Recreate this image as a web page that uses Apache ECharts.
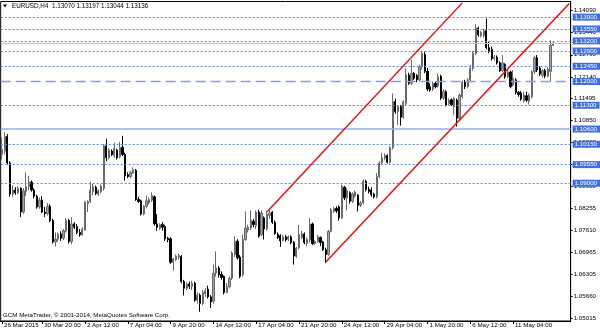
<!DOCTYPE html>
<html><head><meta charset="utf-8">
<script src="https://cdn.jsdelivr.net/npm/echarts@6/dist/echarts.min.js"></script>
<style>html,body{margin:0;padding:0;background:#fff}#c{width:600px;height:333px}</style>
</head><body><div id="c"></div>
<script>
// ---- data ----
const days = ['26 Mar','27 Mar','30 Mar','31 Mar','1 Apr','2 Apr','3 Apr','6 Apr','7 Apr','8 Apr','9 Apr','10 Apr',
  '13 Apr','14 Apr','15 Apr','16 Apr','17 Apr','20 Apr','21 Apr','22 Apr','23 Apr','24 Apr','27 Apr','28 Apr',
  '29 Apr','30 Apr','1 May','4 May','5 May','6 May','7 May','8 May','11 May','12 May','13 May','14 May'];
const hours = ['00:00','04:00','08:00','12:00','16:00','20:00'];
// [open, close, low, high]
const ohlc = [
[1.0985,1.1000,1.0970,1.1035],[1.0995,1.1038,1.0985,1.1050],[1.1038,1.0960,1.0955,1.1045],[1.0960,1.0868,1.0860,1.0965],
[1.0868,1.0880,1.0860,1.0893],[1.0880,1.0872,1.0866,1.0888],[1.0872,1.0885,1.0868,1.0892],[1.0885,1.0815,1.0800,1.0888],
[1.0815,1.0878,1.0810,1.0885],[1.0876,1.0890,1.0862,1.0932],[1.0890,1.0903,1.0880,1.0922],[1.0903,1.0880,1.0875,1.0908],
[1.0880,1.0862,1.0855,1.0885],[1.0862,1.0830,1.0825,1.0866],[1.0830,1.0850,1.0825,1.0858],[1.0850,1.0815,1.0812,1.0862],
[1.0815,1.0810,1.0800,1.0830],[1.0810,1.0832,1.0805,1.0842],[1.0832,1.0790,1.0785,1.0838],[1.0790,1.0727,1.0722,1.0795],
[1.0727,1.0735,1.0713,1.0755],[1.0735,1.0750,1.0728,1.0755],[1.0750,1.0738,1.0730,1.0758],[1.0738,1.0760,1.0732,1.0765],
[1.0760,1.0790,1.0755,1.0797],[1.0790,1.0728,1.0722,1.0795],[1.0728,1.0780,1.0720,1.0800],[1.0780,1.0770,1.0765,1.0785],
[1.0772,1.0755,1.0750,1.0780],[1.0755,1.0748,1.0742,1.0765],[1.0748,1.0765,1.0745,1.0770],[1.0762,1.0845,1.0760,1.0848],
[1.0840,1.0846,1.0815,1.0850],[1.0846,1.0880,1.0842,1.0905],[1.0875,1.0890,1.0865,1.0898],[1.0888,1.0870,1.0865,1.0893],
[1.0868,1.0878,1.0862,1.0882],[1.0875,1.0892,1.0870,1.0897],[1.0885,1.1010,1.0878,1.1015],[1.1010,1.0975,1.0965,1.1031],
[1.0975,1.0998,1.0970,1.1003],[1.0995,1.0985,1.0980,1.1000],[1.0982,1.1003,1.0975,1.1020],[1.0998,1.0975,1.0970,1.1002],
[1.0978,1.1006,1.0973,1.1022],[1.1006,1.0985,1.0980,1.1040],[1.0985,1.0922,1.0908,1.0990],[1.0925,1.0920,1.0915,1.0932],
[1.0920,1.0932,1.0915,1.0937],[1.0930,1.0940,1.0928,1.0947],[1.0938,1.0852,1.0848,1.0942],[1.0852,1.0846,1.0842,1.0860],
[1.0848,1.0809,1.0805,1.0852],[1.0809,1.0832,1.0805,1.0836],[1.0832,1.0848,1.0826,1.0864],[1.0842,1.0852,1.0838,1.0858],
[1.0850,1.0864,1.0845,1.0873],[1.0860,1.0780,1.0775,1.0864],[1.0780,1.0770,1.0760,1.0809],[1.0767,1.0778,1.0762,1.0782],
[1.0778,1.0770,1.0760,1.0785],[1.0772,1.0736,1.0730,1.0777],[1.0738,1.0733,1.0726,1.0742],[1.0736,1.0667,1.0662,1.0741],
[1.0667,1.0677,1.0642,1.0680],[1.0675,1.0685,1.0670,1.0690],[1.0682,1.0687,1.0675,1.0692],[1.0684,1.0610,1.0605,1.0688],
[1.0610,1.0590,1.0569,1.0615],[1.0590,1.0603,1.0585,1.0608],[1.0603,1.0596,1.0588,1.0610],[1.0596,1.0605,1.0585,1.0612],
[1.0605,1.0555,1.0550,1.0610],[1.0555,1.0570,1.0545,1.0578],[1.0570,1.0545,1.0521,1.0575],[1.0545,1.0578,1.0540,1.0585],
[1.0574,1.0583,1.0565,1.0590],[1.0588,1.0565,1.0560,1.0598],[1.0565,1.0550,1.0532,1.0570],[1.0552,1.0635,1.0545,1.0660],
[1.0635,1.0650,1.0625,1.0699],[1.0650,1.0630,1.0622,1.0656],[1.0632,1.0622,1.0615,1.0640],[1.0625,1.0578,1.0572,1.0628],
[1.0578,1.0595,1.0575,1.0605],[1.0595,1.0620,1.0590,1.0625],[1.0620,1.0694,1.0615,1.0699],[1.0690,1.0729,1.0682,1.0744],
[1.0729,1.0680,1.0675,1.0735],[1.0682,1.0626,1.0620,1.0688],[1.0630,1.0734,1.0625,1.0749],[1.0734,1.0768,1.0730,1.0817],
[1.0762,1.0770,1.0755,1.0778],[1.0768,1.0790,1.0762,1.0820],[1.0788,1.0778,1.0770,1.0795],[1.0775,1.0815,1.0765,1.0820],
[1.0815,1.0744,1.0740,1.0822],[1.0748,1.0812,1.0744,1.0820],[1.0798,1.0765,1.0734,1.0802],[1.0765,1.0808,1.0760,1.0818],
[1.0805,1.0812,1.0795,1.0820],[1.0815,1.0785,1.0780,1.0818],[1.0785,1.0752,1.0748,1.0790],[1.0750,1.0740,1.0735,1.0755],
[1.0745,1.0730,1.0712,1.0750],[1.0732,1.0742,1.0728,1.0748],[1.0742,1.0733,1.0728,1.0748],[1.0735,1.0742,1.0730,1.0746],
[1.0742,1.0724,1.0720,1.0746],[1.0726,1.0685,1.0660,1.0730],[1.0685,1.0709,1.0680,1.0712],[1.0709,1.0749,1.0705,1.0778],
[1.0740,1.0752,1.0735,1.0760],[1.0750,1.0725,1.0720,1.0755],[1.0722,1.0735,1.0714,1.0740],[1.0732,1.0780,1.0725,1.0798],
[1.0780,1.0722,1.0718,1.0784],[1.0722,1.0728,1.0718,1.0732],[1.0728,1.0742,1.0725,1.0748],[1.0740,1.0725,1.0715,1.0743],
[1.0727,1.0704,1.0700,1.0730],[1.0704,1.0690,1.0665,1.0710],[1.0690,1.0758,1.0686,1.0762],[1.0758,1.0822,1.0755,1.0827],
[1.0818,1.0825,1.0812,1.0830],[1.0826,1.0818,1.0812,1.0832],[1.0830,1.0798,1.0790,1.0835],[1.0798,1.0891,1.0795,1.0896],
[1.0888,1.0857,1.0850,1.0892],[1.0857,1.0878,1.0820,1.0885],[1.0872,1.0847,1.0840,1.0876],[1.0847,1.0868,1.0842,1.0873],
[1.0862,1.0874,1.0858,1.0878],[1.0865,1.0835,1.0817,1.0868],[1.0835,1.0842,1.0830,1.0848],[1.0842,1.0906,1.0838,1.0912],
[1.0906,1.0882,1.0876,1.0910],[1.0882,1.0876,1.0870,1.0890],[1.0880,1.0866,1.0860,1.0888],[1.0868,1.0860,1.0855,1.0872],
[1.0860,1.0920,1.0855,1.0930],[1.0920,1.0960,1.0915,1.0965],[1.0960,1.0975,1.0955,1.0990],[1.0975,1.0982,1.0968,1.0988],
[1.0982,1.0962,1.0958,1.0985],[1.0962,1.1005,1.0958,1.1010],[1.1005,1.1141,1.1000,1.1165],[1.1141,1.1111,1.1105,1.1150],
[1.1111,1.1126,1.1072,1.1130],[1.1126,1.1095,1.1070,1.1131],[1.1095,1.1140,1.1090,1.1145],[1.1135,1.1219,1.1130,1.1239],
[1.1219,1.1195,1.1190,1.1226],[1.1195,1.1224,1.1190,1.1264],[1.1224,1.1210,1.1205,1.1228],[1.1218,1.1205,1.1198,1.1222],
[1.1205,1.1244,1.1200,1.1250],[1.1244,1.1283,1.1235,1.1290],[1.1280,1.1230,1.1225,1.1288],[1.1230,1.1178,1.1172,1.1240],
[1.1185,1.1175,1.1170,1.1195],[1.1178,1.1195,1.1172,1.1200],[1.1195,1.1185,1.1180,1.1200],[1.1188,1.1215,1.1182,1.1224],
[1.1215,1.1151,1.1145,1.1220],[1.1151,1.1170,1.1146,1.1178],[1.1170,1.1131,1.1126,1.1175],[1.1135,1.1145,1.1130,1.1150],
[1.1146,1.1132,1.1128,1.1150],[1.1125,1.1150,1.1101,1.1155],[1.1145,1.1092,1.1067,1.1150],[1.1092,1.1160,1.1088,1.1165],
[1.1155,1.1198,1.1150,1.1203],[1.1198,1.1185,1.1178,1.1205],[1.1185,1.1205,1.1180,1.1210],[1.1205,1.1239,1.1200,1.1249],
[1.1239,1.1283,1.1232,1.1290],[1.1283,1.1358,1.1278,1.1369],[1.1358,1.1338,1.1332,1.1362],[1.1335,1.1345,1.1330,1.1350],
[1.1335,1.1350,1.1330,1.1355],[1.1350,1.1300,1.1295,1.1386],[1.1300,1.1290,1.1283,1.1318],[1.1295,1.1268,1.1262,1.1303],
[1.1268,1.1272,1.1262,1.1278],[1.1272,1.1255,1.1250,1.1277],[1.1255,1.1232,1.1228,1.1260],[1.1232,1.1255,1.1228,1.1278],
[1.1250,1.1214,1.1208,1.1254],[1.1214,1.1228,1.1210,1.1234],[1.1228,1.1185,1.1180,1.1232],[1.1190,1.1210,1.1185,1.1234],
[1.1205,1.1168,1.1162,1.1210],[1.1168,1.1162,1.1155,1.1172],[1.1166,1.1148,1.1143,1.1172],[1.1143,1.1160,1.1138,1.1170],
[1.1158,1.1145,1.1140,1.1170],[1.1142,1.1160,1.1132,1.1165],[1.1155,1.1229,1.1150,1.1233],[1.1229,1.1270,1.1222,1.1276],
[1.1270,1.1234,1.1228,1.1278],[1.1240,1.1222,1.1216,1.1245],[1.1218,1.1232,1.1212,1.1236],[1.1232,1.1216,1.1210,1.1238],
[1.1216,1.1236,1.1212,1.1242],[1.1230,1.1307,1.1200,1.1322],[1.13070,1.13136,1.13044,1.13197]
];
const shiftBars = 6; // empty space at the right (chart shift)
const yTicks = [1.05015,1.05660,1.06305,1.06965,1.07610,1.08255,1.08900,1.09550,1.10200,1.10850,1.11495,1.12140,1.12790,1.13440,1.14090];
const xTickCats = ['26 Mar 08:00','30 Mar 20:00','2 Apr 12:00','7 Apr 04:00','9 Apr 20:00','14 Apr 12:00','17 Apr 04:00',
  '21 Apr 20:00','24 Apr 12:00','29 Apr 04:00','1 May 20:00','6 May 12:00','11 May 04:00'];
const xTickLabels = ['26 Mar 2015','30 Mar 20:00','2 Apr 12:00','7 Apr 04:00','9 Apr 20:00','14 Apr 12:00','17 Apr 04:00',
  '21 Apr 20:00','24 Apr 12:00','29 Apr 04:00','1 May 20:00','6 May 12:00','11 May 04:00'];
const dottedLevels = [1.13900,1.13550,1.13200,1.12900,1.12450,1.11300,1.10150,1.09550,1.09000];
const dashedLevels = [1.12000];
const solidLevels = [1.10600];
const bidPrice = 1.13136;
const channelUpper = [[99, 1.0815], [172, 1.1432]];
const channelLower = [[121, 1.0668], [212, 1.1430]];
const symbolName = 'EURUSD,H4';

// ---- build ----
const cats = [];
days.forEach((d, di) => hours.forEach((h, hi) => {
  if (di === 0 && hi < 2) return;
  cats.push(d + ' ' + h);
}));
const categories = cats.slice(0, ohlc.length + shiftBars);

const FONT = 'Liberation Sans';
const boxLabel = v => ({
  show: true, position: 'end', distance: 2,
  formatter: v.toFixed(5), color: '#fff', backgroundColor: '#3f6fe0',
  fontSize: 6.2, fontFamily: FONT, padding: [1, 3, 0, 2]
});
const levelLines = [];
dottedLevels.forEach(v => levelLines.push({yAxis: v, lineStyle: {color: '#5f83e6', type: [2, 2], width: 1}, label: boxLabel(v)}));
dashedLevels.forEach(v => levelLines.push({yAxis: v, lineStyle: {color: '#7e9ef0', type: [10, 5], width: 1.3}, label: boxLabel(v)}));
solidLevels.forEach(v => levelLines.push({yAxis: v, lineStyle: {color: '#93aef2', type: 'solid', width: 1.5}, label: boxLabel(v)}));
levelLines.push({yAxis: bidPrice, lineStyle: {color: '#c4c4c4', type: 'solid', width: 1}, label: {show: false}});
const chan = (pts) => [
  {coord: [categories[pts[0][0]], pts[0][1]], lineStyle: {color: '#ff0000', width: 1.4, type: 'solid'}},
  {coord: [categories[pts[1][0]], pts[1][1]]}
];
levelLines.push(chan(channelUpper));
levelLines.push(chan(channelLower));

const last = ohlc[ohlc.length - 1];
const titleText = symbolName + '  ' + [last[0], last[3], last[2], last[1]].map(v => v.toFixed(5)).join(' ');

const chart = echarts.init(document.getElementById('c'), null, {renderer: 'canvas'});
chart.setOption({
  animation: false,
  backgroundColor: '#ffffff',
  grid: {left: 0.66, right: 29.35, top: 1.5, bottom: 12, show: true, borderColor: '#000', borderWidth: 1, backgroundColor: 'transparent'},
  xAxis: {
    type: 'category', data: categories, boundaryGap: true,
    axisLine: {show: true, lineStyle: {color: '#000', width: 1}},
    axisTick: {show: true, length: 3, alignWithLabel: true, interval: (i, v) => xTickCats.indexOf(v) >= 0, lineStyle: {color: '#000'}},
    axisLabel: {show: true, interval: (i, v) => xTickCats.indexOf(v) >= 0, formatter: v => xTickLabels[xTickCats.indexOf(v)] || '',
      align: 'left', margin: 1, padding: [0, 0, 0, 2], color: '#000', fontSize: 6.2, fontFamily: FONT},
    splitLine: {show: false}
  },
  yAxis: {
    type: 'value', position: 'right', min: 1.049366, max: 1.14361, scale: true,
    axisLine: {show: true, lineStyle: {color: '#000', width: 1}},
    axisTick: {show: true, length: 2, customValues: yTicks, lineStyle: {color: '#000'}},
    axisLabel: {show: true, customValues: yTicks, formatter: v => v.toFixed(5), margin: 3, color: '#000', fontSize: 6.2, fontFamily: FONT},
    splitLine: {show: false}
  },
  graphic: [
    {type: 'polygon', shape: {points: [[3, 4.5], [7, 4.5], [5, 7.5]]}, style: {fill: '#000'}},
    {type: 'text', left: 12, top: 3, style: {text: titleText, fill: '#000', font: '6.3px "' + FONT + '"'}},
    {type: 'text', left: 3, top: 312.5, style: {text: 'GCM MetaTrader, \u00a9 2001-2014, MetaQuotes Software Corp.', fill: '#000', font: '6.2px "' + FONT + '"'}}
  ],
  series: [{
    type: 'candlestick', data: ohlc, barWidth: 1.7,
    itemStyle: {color: '#a2a2a2', color0: '#000000', borderColor: '#6a6a6a', borderColor0: '#000000', borderWidth: 1},
    markLine: {symbol: 'none', silent: true, animation: false, precision: 5, data: levelLines}
  }]
});
</script></body></html>
